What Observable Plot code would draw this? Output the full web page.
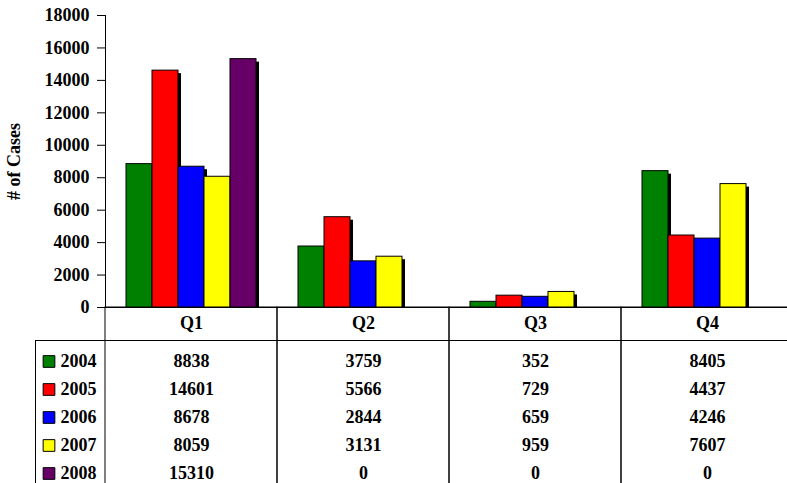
<!DOCTYPE html>
<html>
<head>
<meta charset="utf-8">
<script src="https://cdn.jsdelivr.net/npm/d3@7"></script>
<script src="https://cdn.jsdelivr.net/npm/@observablehq/plot@0.6"></script>
<style>
  html, body { margin: 0; padding: 0; background: white; overflow: hidden; }
  #wrap { position: relative; width: 787px; height: 483px; overflow: hidden; }
  #wrap svg { position: absolute; left: 0; display: block; overflow: visible; }
</style>
</head>
<body>
<div id="wrap"></div>
<script>
const quarters = ["Q1", "Q2", "Q3", "Q4"];
const years = ["2004", "2005", "2006", "2007", "2008"];
const colors = ["#008000", "#ff0000", "#0000ff", "#ffff00", "#660066"];
const s2004 = [8838, 3759, 352, 8405];
const s2005 = [14601, 5566, 729, 4437];
const s2006 = [8678, 2844, 659, 4246];
const s2007 = [8059, 3131, 959, 7607];
const s2008 = [15310, 0, 0, 0];
const yTicks = [0, 2000, 4000, 6000, 8000, 10000, 12000, 14000, 16000, 18000];
const yLabel = "# of Cases";

const series = [s2004, s2005, s2006, s2007, s2008];
const data = [];
years.forEach((yr, i) => quarters.forEach((q, j) => data.push({quarter: q, year: yr, value: series[i][j]})));
const barsData = data.filter(d => d.value > 0);

const font = {fontFamily: "'Liberation Serif', 'Times New Roman', serif", fontWeight: "bold", fontSize: "18px", background: "none", overflow: "visible"};
const colorScale = {type: "ordinal", domain: years, range: colors};

const chartA = Plot.plot({
  width: 787,
  height: 308,
  marginTop: 15,
  marginBottom: 1,
  marginLeft: 105,
  marginRight: -6,
  style: font,
  fx: {domain: quarters, padding: 0, axis: null},
  x: {domain: years, paddingInner: 0, paddingOuter: 0.73, axis: null},
  y: {domain: [0, 18000], ticks: yTicks, tickSize: 8, tickPadding: 8, tickFormat: d => `${d}`,
      label: yLabel, labelAnchor: "center", labelOffset: 98, labelArrow: "none"},
  color: colorScale,
  marks: [
    Plot.barY(barsData, {fx: "quarter", x: "year", y: "value", fill: "black", dx: 3, dy: 3, insetBottom: 3}),
    Plot.barY(barsData, {fx: "quarter", x: "year", y: "value", fill: "year", stroke: "black", strokeWidth: 1}),
    Plot.frame({anchor: "left", facetAnchor: "left", stroke: "black"}),
    Plot.ruleY([0], {stroke: "black"})
  ]
});
chartA.style.top = "0px";

const chartB = Plot.plot({
  width: 787,
  height: 176,
  marginTop: 0,
  marginBottom: -2,
  marginLeft: 35,
  marginRight: -6,
  style: font,
  x: {type: "band", domain: quarters, range: [105, 793], padding: 0, axis: null},
  y: {type: "band", domain: years, range: [38.5, 181], padding: 0, axis: null},
  color: colorScale,
  marks: [
    Plot.frame({insetTop: 33, stroke: "black"}),
    Plot.cell(quarters, {x: d => d, fill: "none", stroke: "black"}),
    Plot.text(quarters, {x: d => d, frameAnchor: "top", lineAnchor: "middle", dy: 16, text: d => d}),
    Plot.text(data, {x: "quarter", y: "year", text: d => `${d.value}`}),
    Plot.dot(years, {y: d => d, frameAnchor: "left", dx: 13.5, symbol: "square", r: 6.6, fill: d => d, stroke: "black", strokeWidth: 1}),
    Plot.text(years, {y: d => d, frameAnchor: "left", dx: 25, textAnchor: "start", text: d => d})
  ]
});
chartB.style.top = "307px";

document.getElementById("wrap").append(chartB, chartA);
</script>
</body>
</html>
